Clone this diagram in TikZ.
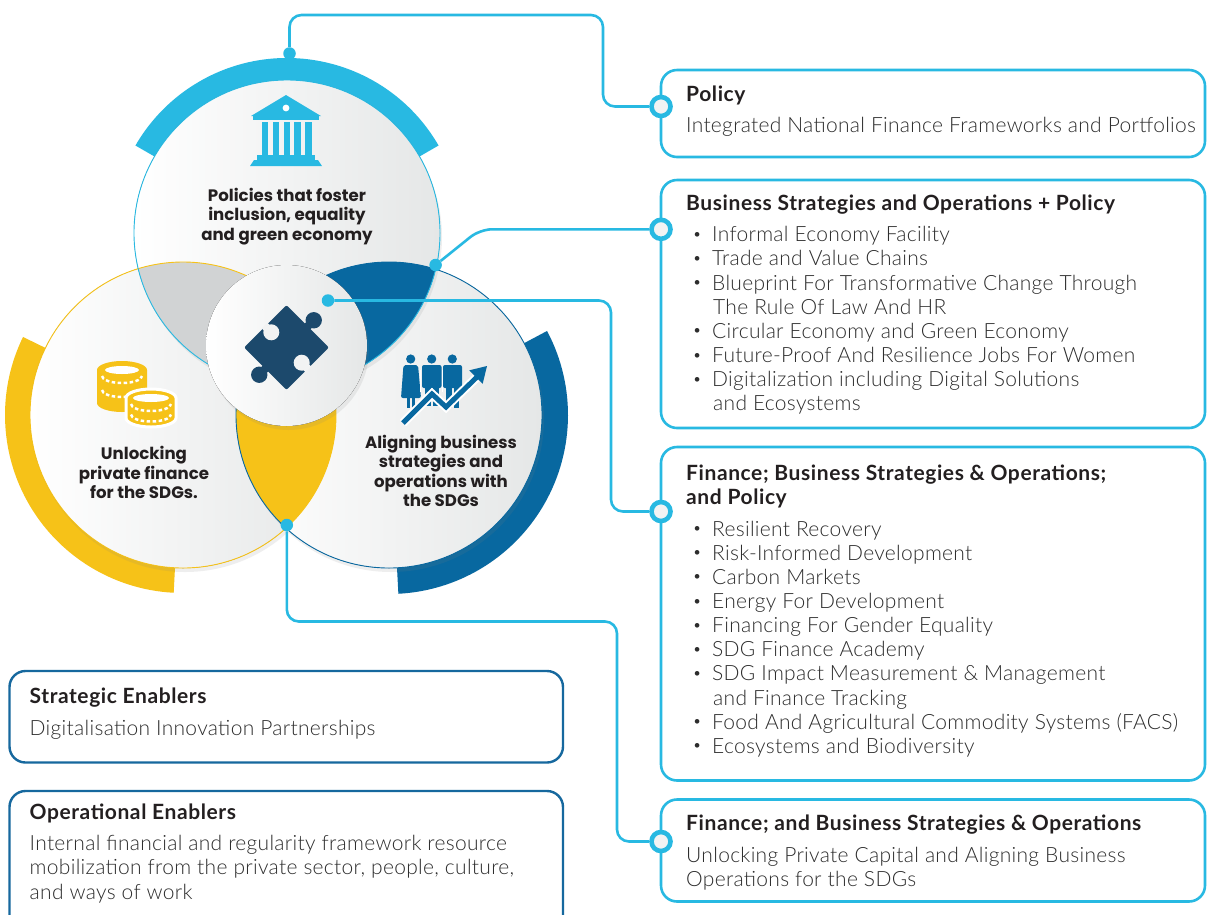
\documentclass[tikz,border=0pt]{standalone}
\usepackage{fontspec}
\usepackage{graphicx}
\setmainfont{Lato}
\newfontfamily\bodyfont{Lato Light}[LetterSpace=1.4]
\newfontfamily\titlefont{Lato}[LetterSpace=2.8]
\newfontfamily\circfont{Poppins}
\usetikzlibrary{shadows}
\definecolor{lblue}{RGB}{40,185,226}
\definecolor{dblue}{RGB}{8,104,160}
\definecolor{myyellow}{RGB}{246,194,24}
\definecolor{lensgray}{RGB}{209,211,212}
\definecolor{navy}{RGB}{28,73,108}
\definecolor{txtdark}{RGB}{35,31,32}
\definecolor{txtbody}{RGB}{45,45,45}
\definecolor{circgray}{RGB}{229,231,231}
\definecolor{holebg}{RGB}{242,243,243}
\definecolor{boxblue}{RGB}{22,104,158}
\newcommand{\TLft}[1]{\begin{tabular}[t]{@{}l@{}}#1\end{tabular}}
\newcommand{\TCtr}[1]{\begin{tabular}[t]{@{}c@{}}#1\end{tabular}}
\newcommand{\myitem}[1]{\hspace*{-1.5pt}\makebox[19.5pt][l]{\raisebox{2.4pt}{\scalebox{0.75}{\textbullet}}}#1}
\newcommand{\mycont}[1]{\hspace*{19pt}#1}
\begin{document}
\begin{tikzpicture}[x=1pt,y=-1pt,
  conn/.style={lblue, line width=2.6pt, rounded corners=12pt},
  dotc/.style={circle, fill=lblue, inner sep=0pt, minimum size=12.5pt},
  hub/.style={circle, draw=lblue, line width=4.6pt, fill=holebg, inner sep=0pt, minimum size=19pt},
  rbox/.style={draw=lblue, line width=2.6pt, rounded corners=16pt},
  ebox/.style={draw=boxblue, line width=2.4pt, rounded corners=16pt},
  ttl/.style={font=\titlefont\bfseries\fontsize{21}{24.1}\selectfont, text=txtdark, anchor=base west, inner sep=0pt},
  bdy/.style={font=\bodyfont\fontsize{21}{24.15}\selectfont, text=txtbody, anchor=base west, inner sep=0pt},
  ctext/.style={font=\circfont\bfseries\fontsize{16.6}{19.3}\selectfont, text=txtdark, inner sep=0pt, anchor=base},
  circfill/.style={left color=white, right color=circgray, drop shadow={opacity=0.13, shadow xshift=2pt, shadow yshift=-4pt}}
]
\useasboundingbox (0,0) rectangle (1207,914);
\fill[white] (0,0) rectangle (1207,914);

\coordinate (T) at (287,233);
\coordinate (L) at (183,415);
\coordinate (R) at (389,415);
\coordinate (C) at (286.5,345.5);

% outer rings
\begin{scope}[shift={(287,233)}]
  \fill[lblue] (-30:175) arc[start angle=-30,end angle=-150,radius=175] -- (-150:150) arc[start angle=-150,end angle=-30,radius=150] -- cycle;
\end{scope}
\begin{scope}[shift={(183,415)}]
  \fill[myyellow] (93:178) arc[start angle=93,end angle=206,radius=178] -- (206:150) arc[start angle=206,end angle=93,radius=150] -- cycle;
\end{scope}
\begin{scope}[shift={(389,415)}]
  \fill[dblue] (-28:179) arc[start angle=-28,end angle=87,radius=179] -- (87:150) arc[start angle=87,end angle=-28,radius=150] -- cycle;
\end{scope}

% circles
\fill[circfill] (L) circle (153);
\fill[circfill] (R) circle (153);
\fill[circfill] (T) circle (153);

% lenses
\begin{scope}
  \clip (T) circle (153);
  \fill[lensgray] (L) circle (153);
  \fill[dblue] (R) circle (153);
\end{scope}
\begin{scope}
  \clip (L) circle (153);
  \fill[myyellow] (R) circle (153);
\end{scope}
\draw[myyellow, line width=0.9pt] (L) circle (153);
\draw[dblue, line width=0.9pt] (R) circle (153);
\draw[lblue, line width=0.9pt] (T) circle (153);

% centre circle
\fill[circfill] (C) circle (80.5);

% puzzle piece
\begin{scope}[shift={(286.5,347.5)}, rotate=45]
  \fill[navy, rounded corners=2pt] (-30,-30) rectangle (30,30);
  \fill[navy] (28,-4) rectangle (34,4);
  \fill[navy] (38.5,0) circle (8.2);
  \fill[navy] (-34,-4) rectangle (-28,4);
  \fill[navy] (-38.5,0) circle (8.2);
  \fill[holebg] (0,-21.5) circle (8);
  \fill[holebg] (-4,-31) rectangle (4,-26);
  \fill[holebg] (0,21.5) circle (8);
  \fill[holebg] (-4,26) rectangle (4,31);
\end{scope}

% bank icon
\fill[lblue] (251,116) -- (286,95) -- (321,116) -- cycle;
\fill[lblue] (253,115) rectangle (319,120);
\fill[white] (286,108) circle (3.4);
\foreach \cx in {261.7,272.6,283.5,294.4,305.3} {\fill[lblue] (\cx,122) rectangle ++(6.4,33);}
\fill[lblue] (257,155) rectangle (315,160);
\fill[lblue] (254,160) -- (318,160) -- (322,166) -- (250,166) -- cycle;

% coins icon
\fill[myyellow] (97,370) -- (97,403) arc[start angle=180,end angle=0,x radius=25,y radius=9] -- (147,370) arc[start angle=0,end angle=-180,x radius=25,y radius=9] -- cycle;
\fill[white] (122,370) ellipse[x radius=17,y radius=4];
\draw[white, line width=2.5pt, dash pattern=on 3.5pt off 2.5pt] (102,376) arc[start angle=180,end angle=0,x radius=20,y radius=7];
\draw[white, line width=2.5pt, dash pattern=on 3.5pt off 2.5pt] (102,390) arc[start angle=180,end angle=0,x radius=20,y radius=7];
\filldraw[fill=myyellow, draw=white, line width=3pt] (126,398) -- (126,418) arc[start angle=180,end angle=0,x radius=25,y radius=9] -- (176,398) arc[start angle=0,end angle=-180,x radius=25,y radius=9] -- cycle;
\fill[white] (151,398) ellipse[x radius=18,y radius=4];
\draw[white, line width=2.5pt, dash pattern=on 3.5pt off 2.5pt] (131,404) arc[start angle=180,end angle=0,x radius=20,y radius=7];
\draw[white, line width=2.5pt, dash pattern=on 3.5pt off 2.5pt] (131,414.5) arc[start angle=180,end angle=0,x radius=20,y radius=7];

% people icon
\fill[dblue] (410.7,359) circle (4.6);
\fill[dblue] (431.7,359) circle (4.6);
\fill[dblue] (452.3,359) circle (4.6);
\fill[dblue, rounded corners=2pt] (403.5,365) -- (418,365) -- (421,398) -- (401,398) -- cycle;
\fill[dblue] (406.5,396) rectangle (409.8,408);
\fill[dblue] (411.8,396) rectangle (415,408);
\fill[dblue, rounded corners=2pt] (422,365) rectangle (441.5,388);
\fill[dblue] (425,386) rectangle (430.5,406);
\fill[dblue] (433,386) rectangle (438.5,406);
\fill[dblue, rounded corners=2pt] (443,365) rectangle (462,388);
\fill[dblue] (446,386) rectangle (451.5,408);
\fill[dblue] (453.5,386) rectangle (459,408);
\draw[white, line width=1pt] (420.5,370) -- (420.5,392) (442.2,370) -- (442.2,392);
\draw[white, line width=9pt] (403,423) -- (432,394) -- (446,407) -- (476,378);
\draw[dblue, line width=5pt] (403,423) -- (432,394) -- (446,407) -- (477,377);
\fill[dblue] (487,366) -- (482.7,383.7) -- (469.3,370.3) -- cycle;

% circle texts
\node[ctext] (ct1) at (287,201.6) {\TCtr{Policies that foster\\inclusion, equality\\and green economy}};
\node[ctext] (ct2) at (144,459.7) {\TCtr{Unlocking\\private finance\\for the SDGs.}};
\node[ctext] (ct3) at (441,448.6) {\TCtr{Aligning business\\strategies and\\operations with\\the SDGs}};

% boxes
\draw[rbox] (661,70) rectangle (1205,157);
\draw[rbox] (661,180) rectangle (1205,428);
\draw[rbox] (661,447) rectangle (1205,780.5);
\draw[rbox] (661,799.5) rectangle (1205,901.5);
\draw[ebox] (9.5,671) rectangle (563,762.5);
\draw[ebox] (9.5,791) rectangle (563,940);

% box texts
\node[ttl] (t1) at (686,101.5) {Policy};
\node[bdy] (b1) at (686,132.3) {Integrated National Finance Frameworks and Portfolios};
\node[ttl] (t2) at (686,210) {Business Strategies and Operations + Policy};
\node[bdy] (b2) at (694,241.7) {\TLft{\myitem{Informal Economy Facility}\\
  \myitem{Trade and Value Chains}\\
  \myitem{Blueprint For Transformative Change Through}\\
  \mycont{The Rule Of Law And HR}\\
  \myitem{Circular Economy and Green Economy}\\
  \myitem{Future-Proof And Resilience Jobs For Women}\\
  \myitem{Digitalization including Digital Solutions}\\
  \mycont{and Ecosystems}}};
\node[ttl] (t3) at (686,480) {\TLft{Finance; Business Strategies \& Operations;\\and Policy}};
\node[bdy] (b3) at (694,536) {\TLft{\myitem{Resilient Recovery}\\
  \myitem{Risk-Informed Development}\\
  \myitem{Carbon Markets}\\
  \myitem{Energy For Development}\\
  \myitem{Financing For Gender Equality}\\
  \myitem{SDG Finance Academy}\\
  \myitem{SDG Impact Measurement \& Management}\\
  \mycont{and Finance Tracking}\\
  \myitem{Food And Agricultural Commodity Systems (FACS)}\\
  \myitem{Ecosystems and Biodiversity}}};
\node[ttl] (t4) at (686,830) {Finance; and Business Strategies \& Operations};
\node[bdy] (b4) at (686,862.7) {\TLft{Unlocking Private Capital and Aligning Business\\Operations for the SDGs}};
\node[ttl] (t5) at (29.5,703) {Strategic Enablers};
\node[bdy] (b5) at (29.5,735) {Digitalisation Innovation Partnerships};
\node[ttl] (t6) at (29.5,819) {Operational Enablers};
\node[bdy] (b6) at (29.5,850.7) {\TLft{Internal financial and regularity framework resource\\mobilization from the private sector, people, culture,\\and ways of work}};

% hubs and dots
\node[hub] (m1) at (661,106.5) {};
\node[hub] (m2) at (661,229.3) {};
\node[hub] (m3) at (661,511.5) {};
\node[hub] (m4) at (661,841.5) {};
\coordinate (k1) at (603,15);
\coordinate (k2) at (480,229.3);
\coordinate (k3) at (611,511.5);
\coordinate (k4) at (617,621.5);
\node[dotc] (d1) at (289.5,53.5) {};
\node[dotc] (d2) at (435.6,265) {};
\node[dotc] (d3) at (328,300.5) {};
\node[dotc] (d4) at (286.8,525) {};
\draw[conn] (d1) |- (k1) |- (m1);
\draw[conn] (d2) -- (k2) -- (m2);
\draw[conn] (d3) -| (k3) -- (m3);
\draw[conn] (d4) |- (k4) |- (m4);
\end{tikzpicture}
\end{document}
